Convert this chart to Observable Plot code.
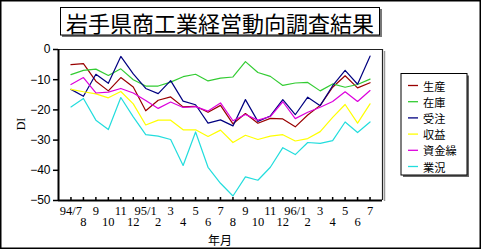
<!DOCTYPE html>
<html>
<head>
<meta charset="utf-8">
<script src="https://cdn.jsdelivr.net/npm/d3@7"></script>
<script src="https://cdn.jsdelivr.net/npm/@observablehq/plot@0.6"></script>
<style>
  html, body { margin: 0; padding: 0; background: #fff; }
  svg { display: block; }
</style>
</head>
<body>
<div id="chart"></div>
<script>
const title = "岩手県商工業経営動向調査結果";
const months = ["94/7","8","9","10","11","12","95/1","2","3","4","5","6","7","8","9","10","11","12","96/1","2","3","4","5","6","7"];
const seriesNames = ["生産","在庫","受注","収益","資金繰","業況"];
const seriesColors = ["#990000","#33cc33","#000080","#ffff00","#dd00dd","#22dddd"];
const yTicks = [-50,-40,-30,-20,-10,0];

const seisan   = [-5,-4.7,-10.5,-13.7,-9.3,-12.4,-20.3,-16.8,-15.7,-19,-18.8,-20.8,-18.5,-24.6,-21.2,-24.4,-22.8,-23,-25.6,-21.7,-18.5,-12.5,-8.7,-12.7,-11];
const zaiko    = [-8.3,-6.9,-6.5,-8.6,-6.4,-10,-12.1,-12.1,-10.8,-9,-8.2,-10.4,-9.5,-9.1,-4,-7.6,-8.9,-11.9,-11.1,-10.9,-13.7,-11.4,-12.5,-11.6,-9.8];
const juchu    = [-13.2,-15.5,-8.2,-11.2,-2.3,-8.1,-12.9,-14.6,-10.3,-17.1,-18.3,-24.4,-23.3,-25.3,-16.6,-23.8,-22,-16.6,-21.6,-15.8,-18.6,-12,-6.9,-11.5,-2.2];
const shueki   = [-13.2,-14,-14.7,-16,-13.9,-18,-25,-23.4,-23.4,-26.6,-26.6,-28.8,-26.7,-30.8,-28.4,-29.8,-28.7,-28.2,-30.3,-29.5,-27.2,-22.5,-18.2,-24.4,-18];
const shikin   = [-11.6,-9.3,-14.4,-14.1,-12.9,-14.4,-16.9,-19.5,-17.4,-19.2,-18.9,-20.4,-17.7,-23.6,-21.5,-23.4,-22.2,-17.3,-22.9,-20.8,-19.1,-17.2,-14,-17.2,-13.6];
const gyokyo   = [-19,-16.2,-23.4,-26.5,-15.9,-22.3,-28.2,-28.7,-29.8,-38.4,-27.3,-39,-44.3,-48.5,-42.2,-43.3,-39,-32.5,-34.8,-30.8,-31.1,-30.2,-24,-27.5,-24];

const seriesValues = [seisan, zaiko, juchu, shueki, shikin, gyokyo];
const rows = [];
seriesNames.forEach((name, k) => {
  seriesValues[k].forEach((v, i) => rows.push({ s: name, i, v }));
});

const idx = d3.range(months.length);
const oddRow = idx.filter(i => i % 2 === 0);
const evenRow = idx.filter(i => i % 2 === 1);

const serif = "'Liberation Serif', 'DejaVu Serif', serif";
const sans = "'Liberation Sans', 'DejaVu Sans', sans-serif";
const cjk = "'Noto Sans CJK JP', 'Noto Sans', sans-serif";

const chart = Plot.plot({
  width: 482,
  height: 250,
  marginLeft: 58,
  marginRight: 100,
  marginTop: 49,
  marginBottom: 50,
  style: { background: "#fff", fontSize: "12px", fontFamily: sans, color: "#000", overflow: "visible" },
  x: { type: "linear", domain: [-1, 25], axis: null },
  y: { domain: [-50, 0], axis: null },
  color: { domain: seriesNames, range: seriesColors },
  marks: [
    Plot.line(rows, { x: "i", y: "v", z: "s", stroke: "s", strokeWidth: 1.2 }),
    Plot.ruleY([0], { stroke: "#222", strokeWidth: 1.2 }),
    Plot.ruleX([25], { stroke: "#222", strokeWidth: 1.2 }),
    Plot.ruleY([-50], { stroke: "#000", strokeWidth: 2 }),
    Plot.ruleX([-1], { stroke: "#000", strokeWidth: 2 }),
    Plot.axisY({ ticks: yTicks, tickSize: 5, tickPadding: 3, label: null, fontSize: 12, fontFamily: sans, stroke: "#000", strokeWidth: 1.5 }),
    Plot.axisX(idx, { tickSize: -3, tickFormat: () => "", label: null, strokeWidth: 1.5 }),
    Plot.axisX(oddRow, { tickSize: 0, tickPadding: 6, tickFormat: i => months[i], label: null, fontSize: 12.5, fontFamily: serif }),
    Plot.axisX(evenRow, { tickSize: 0, tickPadding: 16.5, tickFormat: i => months[i], label: null, fontSize: 12.5, fontFamily: serif })
  ]
});

document.getElementById("chart").appendChild(chart);

const svg = d3.select(chart);

// plot frame shadow
svg.append("line").attr("x1", 384.5).attr("x2", 384.5).attr("y1", 51).attr("y2", 201)
  .attr("stroke", "#999").attr("stroke-width", 1.5);

// outer border
svg.append("rect").attr("x", 0.75).attr("y", 0.75).attr("width", 479.5).attr("height", 247.5)
  .attr("fill", "none").attr("stroke", "#000").attr("stroke-width", 1.5);

// title box
const tg = svg.append("g");
tg.append("rect").attr("x", 62).attr("y", 9).attr("width", 320).attr("height", 28).attr("fill", "#777");
tg.append("rect").attr("x", 60.5).attr("y", 7.5).attr("width", 319).attr("height", 27.5)
  .attr("fill", "#fff").attr("stroke", "#000").attr("stroke-width", 1);
tg.append("text").attr("x", 220).attr("y", 22).attr("text-anchor", "middle")
  .attr("dominant-baseline", "central").attr("font-family", cjk).attr("font-size", 22)
  .attr("fill", "#000").text(title);

// axis labels
svg.append("text").attr("transform", "translate(21,124) rotate(-90)")
  .attr("text-anchor", "middle").attr("dominant-baseline", "central")
  .attr("font-family", serif).attr("font-size", 12).text("DI");
svg.append("text").attr("x", 220).attr("y", 239).attr("text-anchor", "middle")
  .attr("dominant-baseline", "central").attr("font-family", cjk).attr("font-size", 12).text("年月");

// legend
const lg = svg.append("g");
lg.append("rect").attr("x", 403).attr("y", 75.5).attr("width", 66).attr("height", 101.5).attr("fill", "#666");
lg.append("rect").attr("x", 401).attr("y", 73.5).attr("width", 66).attr("height", 101.5)
  .attr("fill", "#fff").attr("stroke", "#000").attr("stroke-width", 1);
seriesNames.forEach((name, k) => {
  const y = 85.5 + k * 16.2;
  lg.append("line").attr("x1", 408).attr("x2", 418).attr("y1", y).attr("y2", y)
    .attr("stroke", seriesColors[k]).attr("stroke-width", 1.3);
  lg.append("text").attr("x", 423).attr("y", y).attr("text-anchor", "start")
    .attr("dominant-baseline", "central")
    .attr("font-family", cjk).attr("font-size", 11.2).attr("fill", "#000").text(name);
});
</script>
</body>
</html>
